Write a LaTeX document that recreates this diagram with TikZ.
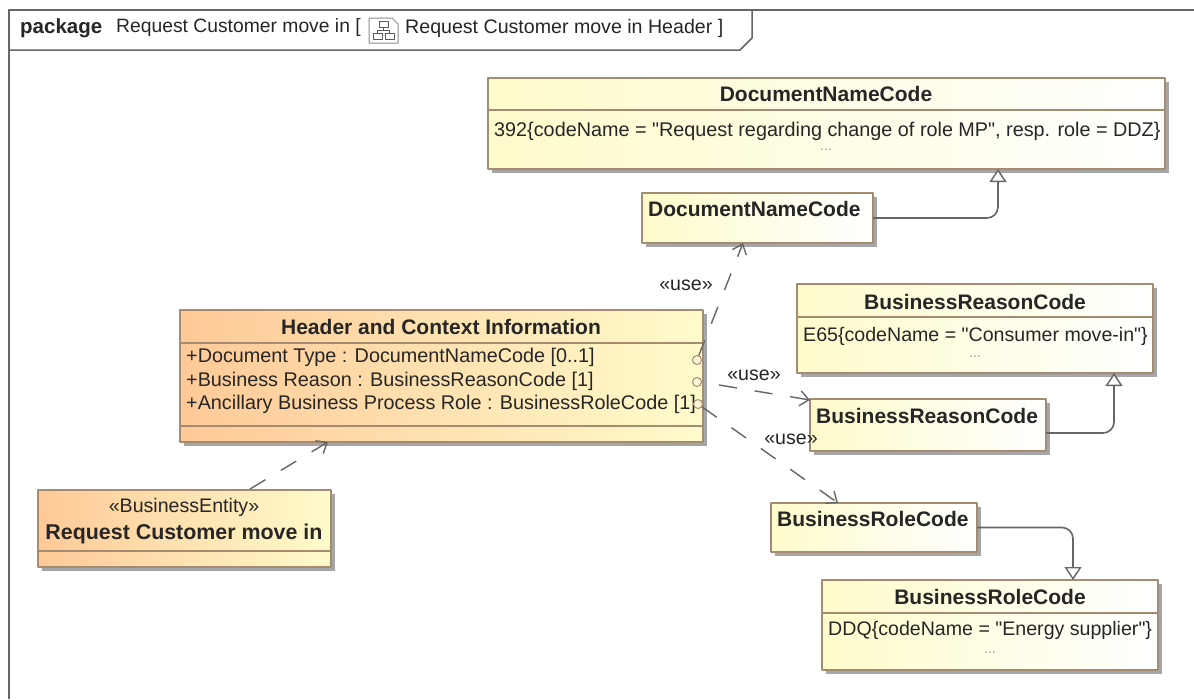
\documentclass[tikz,border=0pt]{standalone}
\usepackage{fontspec}
\setmainfont{Liberation Sans}[Ligatures=TeXOff]
\usetikzlibrary{arrows.meta,shadows}
\definecolor{boxedge}{HTML}{A58B70}
\definecolor{lineedge}{HTML}{666666}
\definecolor{peach}{HTML}{FFC997}
\definecolor{cream}{HTML}{FFFBCB}
\definecolor{portfill}{HTML}{FFF6D8}
\tikzset{
	txt/.style={font=\fontsize{19.6}{24}\selectfont, inner sep=0pt, text=black!85},
	attr/.style={txt, font=\fontsize{19.8}{24}\selectfont},
	title/.style={txt, font=\fontsize{21}{24}\selectfont\bfseries},
	dots/.style={inner sep=0pt, font=\fontsize{14}{16}\selectfont, text=black!40},
	umlbox/.style={draw=boxedge, line width=1.6pt, anchor=north west, inner sep=0pt, outer sep=0pt,
		drop shadow={shadow xshift=4pt, shadow yshift=-4pt, fill=black!35, opacity=1}},
	yellowbox/.style={umlbox, left color=cream, right color=white},
	orangebox/.style={umlbox, left color=peach, right color=cream},
	sep/.style={draw=boxedge, line width=1.3pt},
	port/.style={circle, draw=boxedge, line width=1pt, fill=portfill, inner sep=0pt, minimum size=9pt},
	use/.style={draw=lineedge, line width=1.4pt, dash pattern=on 18pt off 18pt, -{Straight Barb[length=9pt,width=15pt,line width=1.4pt]}},
	gen/.style={draw=lineedge, line width=1.6pt, rounded corners=11pt, -{Triangle[open,length=13pt,width=17pt,fill=white,line width=1.4pt]}}
}
\begin{document}
\begin{tikzpicture}[x=1pt, y=-1pt, line join=round]
	\useasboundingbox (0,0) rectangle (1194,699);
	\fill[white] (0,0) rectangle (1194,699);
	\draw[lineedge, line width=1.8pt] (1194,10) -- (9,10) -- (9,699);
	\draw[lineedge, line width=1.5pt] (752,10) -- (752,38) -- (740,50) -- (9,50);
	\node[title, anchor=west, font=\fontsize{20.5}{24}\selectfont\bfseries] (pkg) at (20,28) {package};
	\node[txt, anchor=west, font=\fontsize{19.3}{24}\selectfont] (pkgname) at (116,28) {Request Customer move in [};
	\node[txt, anchor=west] (pkgdiag) at (405,28) {Request Customer move in Header ]};
	% icon
	\draw[black!45, line width=1pt, fill=white] (369,18) -- (392,18) -- (398,24) -- (398,43) -- (369,43) -- cycle;
	\draw[black!65, line width=1pt] (379,21) rectangle (388,27) (373,33) rectangle (382,39) (385,33) rectangle (394,39)
	(383.5,27) -- (383.5,30) (377.5,33) -- (377.5,30) -- (389.5,30) -- (389.5,33);
	
	\node[yellowbox, minimum width=677pt, minimum height=91pt] (docbig) at (488,78) {};
	\node[yellowbox, minimum width=231pt, minimum height=50pt] (docsmall) at (642,193) {};
	\node[yellowbox, minimum width=356pt, minimum height=89pt] (reasonbig) at (797,284) {};
	\node[yellowbox, minimum width=236pt, minimum height=52pt] (reasonsmall) at (810,399) {};
	\node[yellowbox, minimum width=206pt, minimum height=49pt] (rolesmall) at (771,503) {};
	\node[yellowbox, minimum width=336pt, minimum height=90pt] (rolebig) at (822,580) {};
	\node[orangebox, minimum width=523pt, minimum height=132pt] (header) at (180,310) {};
	\node[orangebox, minimum width=293pt, minimum height=77pt] (request) at (38,490) {};
	
	\draw[sep] (docbig.west |- 0,110) -- (docbig.east |- 0,110);
	\draw[sep] (reasonbig.west |- 0,317) -- (reasonbig.east |- 0,317);
	\draw[sep] (rolebig.west |- 0,613) -- (rolebig.east |- 0,613);
	\draw[sep] (header.west |- 0,343) -- (header.east |- 0,343) (header.west |- 0,426) -- (header.east |- 0,426);
	\draw[sep] (request.west |- 0,551) -- (request.east |- 0,551);
	
	\node[title] (docbigname) at (826,94) {DocumentNameCode};
	\node[attr, anchor=west] (docbiglit) at (494,131) {392\{codeName = "Request regarding change of role MP", resp. role = DDZ\}};
	\node[dots] (docbigdots) at (826,150) {...};
	\node[title, anchor=west] (docsmallname) at (648,209) {DocumentNameCode};
	\node[title] (reasonbigname) at (975,302) {BusinessReasonCode};
	\node[txt, anchor=west] (reasonbiglit) at (803,336) {E65\{codeName = "Consumer move-in"\}};
	\node[dots] (reasonbigdots) at (975,357) {...};
	\node[title, anchor=west] (reasonsmallname) at (816,416) {BusinessReasonCode};
	\node[title, anchor=west] (rolesmallname) at (777,519) {BusinessRoleCode};
	\node[title] (rolebigname) at (990,597) {BusinessRoleCode};
	\node[txt, anchor=west] (rolebiglit) at (828,630) {DDQ\{codeName = "Energy supplier"\}};
	\node[dots] (rolebigdots) at (990,653) {...};
	\node[title] (headername) at (441,327) {Header and Context Information};
	\node[attr, anchor=west] (attrdoc) at (186,357) {+Document Type : DocumentNameCode [0..1]};
	\node[attr, anchor=west] (attrreason) at (186,381) {+Business Reason : BusinessReasonCode [1]};
	\node[attr, anchor=west] (attrrole) at (186,404) {+Ancillary Business Process Role : BusinessRoleCode [1]};
	\node[txt] (requeststereo) at (184,507) {«BusinessEntity»};
	\node[title, font=\fontsize{21.4}{24}\selectfont\bfseries] (requestname) at (184,534) {Request Customer move in};
	
	\node[port] (portdoc) at (697,360) {};
	\node[port] (portreason) at (697,382) {};
	\node[port] (portrole) at (698,404) {};
	
	\path
	(998,169) coordinate (docgen)
	(1114,373) coordinate (reasongen)
	(1073,580) coordinate (rolegen)
	(743,243) coordinate (docuse)
	(810,400) coordinate (reasonuse)
	(838,503) coordinate (roleuse)
	(719,385) coordinate (reasonstart)
	(250,489) coordinate (requeststart)
	(328,442) coordinate (headeruse);
	
	\draw[gen] (docsmall.east) -| (docgen);
	\draw[gen] ([yshift=-8pt]reasonsmall.east) -| (reasongen);
	\draw[gen] (rolesmall.east) -| (rolegen);
	\draw[use, dash phase=2pt] (portdoc) -- (docuse);
	\draw[use] (reasonstart) -- (reasonuse);
	\draw[use] (portrole) -- (roleuse);
	\draw[use] (requeststart) -- (headeruse);
	
	\node[txt] (usedoc) at (686,285) {«use»};
	\node[txt] (usereason) at (754,375) {«use»};
	\node[txt] (userole) at (791,439) {«use»};
\end{tikzpicture}
\end{document}
